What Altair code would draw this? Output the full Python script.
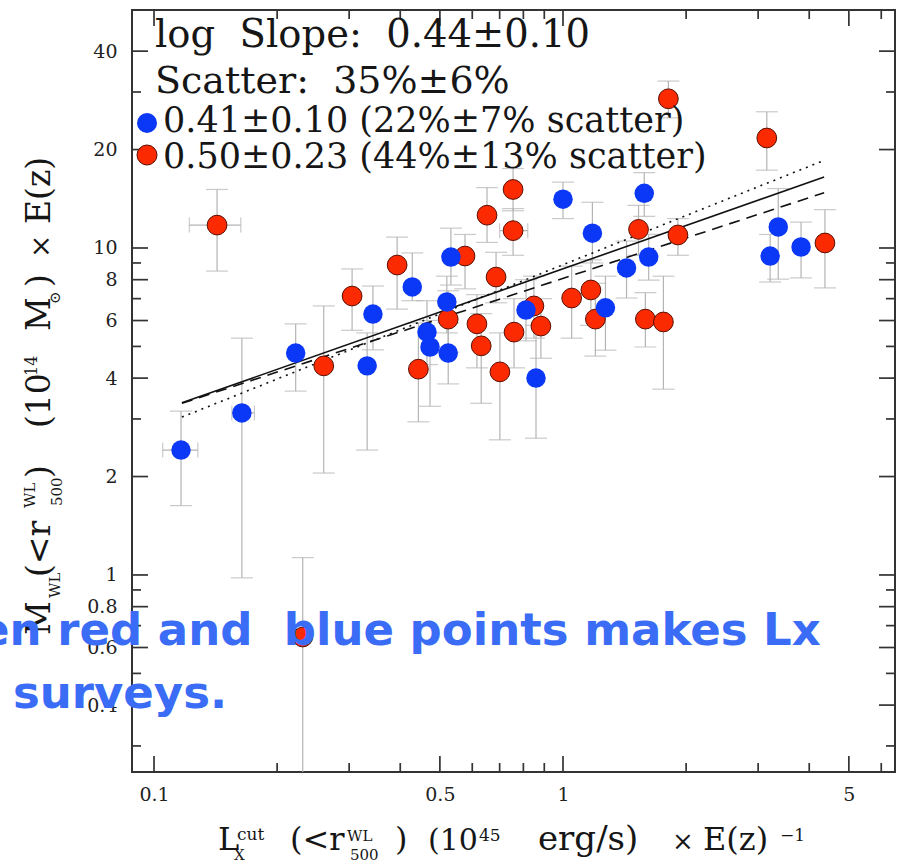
import altair as alt
import pandas as pd

# ---------------- data ----------------
# Blue subsample: X-ray luminosity, WL mass and their error ranges
blue_lx = [0.1164, 0.164, 0.222, 0.332, 0.343, 0.428, 0.532, 0.52, 0.465, 0.473, 0.524,
           0.812, 0.859, 1.0, 1.18, 1.27, 1.43, 1.58, 1.62, 3.36, 3.21, 3.82]
blue_m = [2.41, 3.13, 4.77, 4.36, 6.28, 7.6, 9.38, 6.84, 5.53, 4.98, 4.77,
          6.46, 4.0, 14.1, 11.1, 6.56, 8.69, 14.7, 9.38, 11.6, 9.45, 10.07]
blue_m_lo = [1.63, 0.98, 3.65, 2.41, 4.88, 6.9, 7.7, 5.5, 4.4, 3.28, 3.84,
             5.2, 2.62, 12.3, 9.0, 4.87, 7.03, 12.5, 7.97, 8.03, 7.87, 8.1]
blue_m_hi = [3.17, 5.3, 5.86, 5.5, 7.65, 9.66, 11.5, 8.2, 6.9, 6.0, 5.9,
             8.0, 5.8, 15.9, 13.8, 8.2, 10.5, 17.0, 11.0, 15.2, 11.0, 12.0]
blue_lx_lo = [0.105, 0.155] + blue_lx[2:]
blue_lx_hi = [0.128, 0.176] + blue_lx[2:]

# Red subsample
red_lx = [0.1426, 0.26, 0.305, 0.393, 0.443, 0.576, 0.524, 0.652, 0.755, 0.755, 0.686,
          0.616, 0.631, 0.701, 0.759, 0.849, 0.883, 1.05, 1.17, 1.20, 1.53, 1.91,
          1.81, 3.15, 4.37, 1.59, 1.76, 0.231]
red_m = [11.75, 4.36, 7.13, 8.87, 4.26, 9.45, 6.06, 12.6, 15.1, 11.3, 8.15,
         5.86, 5.02, 4.18, 5.53, 6.65, 5.77, 7.03, 7.44, 6.06, 11.4, 10.96,
         28.6, 21.7, 10.36, 6.06, 5.94, 0.646]
red_m_lo = [8.5, 2.05, 5.6, 6.5, 2.94, 7.5, 4.8, 10.4, 13.0, 9.5, 6.8,
            4.3, 3.35, 2.59, 4.3, 5.3, 4.6, 5.3, 5.8, 4.67, 9.5, 9.5,
            25.0, 17.3, 7.55, 4.98, 3.7, 0.2]
red_m_hi = [15.1, 6.65, 8.63, 10.8, 5.9, 11.0, 7.4, 15.3, 17.5, 13.2, 9.7,
            7.2, 6.3, 5.5, 7.0, 8.2, 7.0, 8.8, 9.2, 7.8, 13.5, 12.3,
            32.4, 26.1, 13.1, 7.3, 8.2, 1.13]
red_lx_lo = list(red_lx)
red_lx_hi = list(red_lx)
red_lx_lo[0], red_lx_hi[0] = 0.122, 0.163
red_lx_lo[9], red_lx_hi[9] = 0.70, 0.82

# Power-law fits: (mass at pivot luminosity, log slope)
fit_range = [0.117, 4.35]
fit_all = (3.36, 0.44)
fit_blue = (3.35, 0.41)
fit_red = (3.04, 0.50)

# Axis ticks
x_labels = [0.1, 0.5, 1, 5]
x_minor = [0.2, 0.3, 0.4, 0.6, 0.7, 0.8, 0.9, 2, 3, 4, 6]
y_labels = [0.4, 0.6, 0.8, 1, 2, 4, 6, 8, 10, 20, 40]
y_minor = [0.3, 0.5, 0.7, 0.9, 3, 5, 7, 9, 30]

NB = "\u00a0"  # keeps the wider word gaps (SVG collapses plain double spaces)
ann_lines = [f"log{NB} Slope:{NB} 0.44\u00b10.10", f"Scatter:{NB} 35%\u00b16%",
             "0.41\u00b10.10 (22%\u00b17% scatter)", "0.50\u00b10.23 (44%\u00b113% scatter)"]
overlay_lines = [f"en red and{NB} blue points makes Lx", "surveys."]

# ---------------- styling ----------------
W, H = 763, 762
OX, OY = 132, 10
SERIF = "DejaVu Serif"
INK = "#161616"
FRAME = "#333333"
ERR = "#b4b4b4"
RED = "#fb2a00"
RED_EDGE = "#5a0d00"
BLUE = "#0b37f6"
OVERLAY = "#3a6cf6"

x_scale = alt.Scale(type="log", domain=[0.08834, 6.483], nice=False)
y_scale = alt.Scale(type="log", domain=[0.2497, 53.44], nice=False)
x_axis = alt.Axis(values=x_labels, format="~g", title=None, grid=False, ticks=False,
                  domain=False, tickSize=0, labelPadding=13, labelFont=SERIF,
                  labelFontSize=19, labelColor="#222", labelFlush=False, labelOverlap=False)
y_axis = alt.Axis(values=y_labels, format="~g", title=None, grid=False, ticks=False,
                  domain=False, tickSize=0, labelPadding=15, labelFont=SERIF,
                  labelFontSize=19, labelColor="#222", labelFlush=False, labelOverlap=False)


def X(f):
    return alt.X(f"{f}:Q", scale=x_scale, axis=x_axis)


def Y(f):
    return alt.Y(f"{f}:Q", scale=y_scale, axis=y_axis)


def frame_ticks(vals, axis, side, length):
    base = alt.Chart(pd.DataFrame({"v": vals})).mark_rule(color=FRAME, strokeWidth=1.7)
    if axis == "x":
        y0, y1 = (H, H - length) if side == "low" else (0, length)
        return base.encode(x=X("v"), y=alt.value(y0), y2=alt.value(y1))
    x0, x1 = (0, length) if side == "low" else (W, W - length)
    return base.encode(y=Y("v"), x=alt.value(x0), x2=alt.value(x1))


def label(text, x, y, size, angle=0, font=SERIF, color=INK, weight="normal"):
    return alt.Chart(pd.DataFrame({"t": [text]})).mark_text(
        align="left", baseline="alphabetic", font=font, fontSize=size,
        angle=angle, color=color, fontWeight=weight
    ).encode(x=alt.value(x - OX), y=alt.value(y - OY), text="t:N")


# ---------------- tables ----------------
blue = pd.DataFrame({"lx": blue_lx, "m": blue_m, "mlo": blue_m_lo, "mhi": blue_m_hi,
                     "lxlo": blue_lx_lo, "lxhi": blue_lx_hi})
red = pd.DataFrame({"lx": red_lx, "m": red_m, "mlo": red_m_lo, "mhi": red_m_hi,
                    "lxlo": red_lx_lo, "lxhi": red_lx_hi})
allpts = pd.concat([red, blue], ignore_index=True)
xerr = allpts[allpts["lxlo"] < allpts["lx"]]


def fit_table(fit):
    m0, s = fit
    x0 = fit_range[0]
    return pd.DataFrame({"lx": fit_range, "m": [m0 * (x / x0) ** s for x in fit_range]})


# ---------------- layers ----------------
layers = []
for ax, major, minor in (("x", x_labels, x_minor), ("y", y_labels, y_minor)):
    for side in ("low", "high"):
        layers.append(frame_ticks(major, ax, side, 16))
        layers.append(frame_ticks(minor, ax, side, 9))

# error bars with caps
err = alt.Chart(allpts)
layers.append(err.mark_rule(color=ERR, strokeWidth=1.2, clip=True)
              .encode(x=X("lx"), y=Y("mlo"), y2="mhi"))
layers.append(err.mark_tick(color=ERR, orient="horizontal", size=22, thickness=1.2, clip=True)
              .encode(x=X("lx"), y=Y("mlo")))
layers.append(err.mark_tick(color=ERR, orient="horizontal", size=22, thickness=1.2, clip=True)
              .encode(x=X("lx"), y=Y("mhi")))
xe = alt.Chart(xerr)
layers.append(xe.mark_rule(color=ERR, strokeWidth=1.2).encode(x=X("lxlo"), x2="lxhi", y=Y("m")))
layers.append(xe.mark_tick(color=ERR, orient="vertical", size=15, thickness=1.2)
              .encode(x=X("lxlo"), y=Y("m")))
layers.append(xe.mark_tick(color=ERR, orient="vertical", size=15, thickness=1.2)
              .encode(x=X("lxhi"), y=Y("m")))

# fit lines
layers.append(alt.Chart(fit_table(fit_all)).mark_line(color="#111", strokeWidth=1.6)
              .encode(x=X("lx"), y=Y("m")))
layers.append(alt.Chart(fit_table(fit_blue)).mark_line(color="#111", strokeWidth=1.6,
                                                       strokeDash=[11, 7])
              .encode(x=X("lx"), y=Y("m")))
layers.append(alt.Chart(fit_table(fit_red)).mark_line(color="#111", strokeWidth=1.6,
                                                      strokeDash=[2, 5])
              .encode(x=X("lx"), y=Y("m")))

# cluster points
layers.append(alt.Chart(red).mark_circle(size=390, color=RED, opacity=1, stroke=RED_EDGE,
                                         strokeWidth=1).encode(x=X("lx"), y=Y("m")))
layers.append(alt.Chart(blue).mark_circle(size=380, color=BLUE, opacity=1)
              .encode(x=X("lx"), y=Y("m")))

# annotation block
layers.append(label(ann_lines[0], 155, 47, 38.5))
layers.append(label(ann_lines[1], 155, 93, 38))
layers.append(label(ann_lines[2], 163, 132, 35))
layers.append(label(ann_lines[3], 163, 168, 35))
for col, cy in ((BLUE, 123), (RED, 155)):
    layers.append(alt.Chart(pd.DataFrame({"k": [0]})).mark_circle(
        size=400, color=col, opacity=1, stroke=RED_EDGE if col == RED else None,
        strokeWidth=1 if col == RED else 0
    ).encode(x=alt.value(147 - OX), y=alt.value(cy - OY)))

# x axis title, built from pieces for the sub/superscripts: (text, x, baseline y, size)
x_title = [("L", 218, 850, 32), ("cut", 237, 840, 17), ("X", 234, 860, 15),
           ("(<r", 290, 850, 32), ("WL", 347, 841, 15), ("500", 350, 860, 15),
           (")", 395, 850, 32), ("(10", 428, 850, 30), ("45", 479, 841, 17),
           ("erg/s)", 538, 850, 34), ("\u00d7", 672, 850, 26), ("E(z)", 703, 850, 32),
           ("\u22121", 780, 841, 17)]
for t, x, y, s in x_title:
    layers.append(label(t, x, y, s))

# y axis title, rotated; (text, baseline x, start y, size)
y_title = [("M", 50, 635, 33), ("WL", 60, 598, 15), ("(<r", 50, 577, 33),
           ("WL", 35, 508, 15), ("500", 62, 506, 15), (")", 50, 478, 33),
           ("(10", 50, 428, 33), ("14", 37, 376, 16), ("M", 50, 331, 33),
           ("\u2299", 60, 304, 15), (")", 50, 287, 33), ("\u00d7", 50, 258, 28),
           ("E(z)", 50, 224, 33)]
for t, x, y, s in y_title:
    layers.append(label(t, x, y, s, angle=270))

# overlaid slide caption
layers.append(label(overlay_lines[0], -21, 645, 45, font="DejaVu Sans", color=OVERLAY,
                    weight="bold"))
layers.append(label(overlay_lines[1], 13, 708, 45, font="DejaVu Sans", color=OVERLAY,
                    weight="bold"))

chart = alt.layer(*layers).properties(
    width=W, height=H,
    padding={"left": OX, "top": OY, "right": 907 - OX - W, "bottom": 864 - OY - H},
    autosize=alt.AutoSizeParams(type="none"),
    background="white",
).configure_view(stroke=FRAME, strokeWidth=2)

chart.save("out.html", embed_options={"renderer": "svg", "actions": False})
